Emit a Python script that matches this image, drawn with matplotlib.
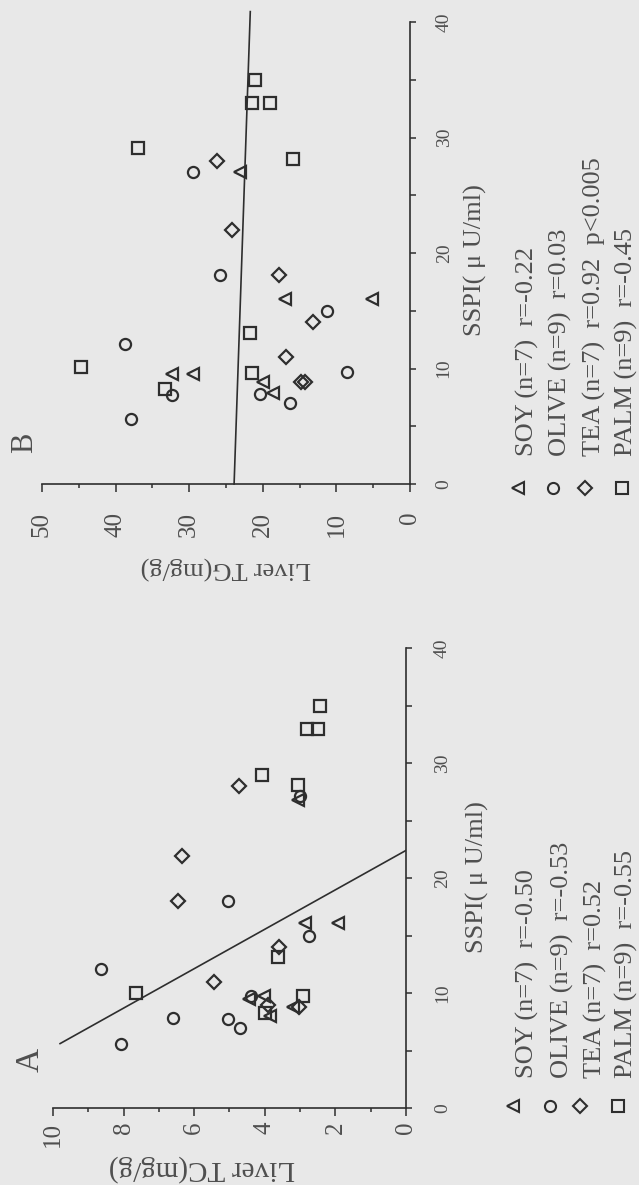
import matplotlib
matplotlib.use('Agg')
import matplotlib.pyplot as plt
from matplotlib.ticker import MultipleLocator

plt.rcParams['font.family'] = ['Liberation Serif', 'DejaVu Serif']

W, H = 639, 1185
bg = '#e8e8e8'
ink = '#2e2e2e'
txt = '#4f4f4f'

# --- Panel A: Liver TC (mg/g) vs SSPI ---
a_soy_tc = [3.07, 2.87, 1.93, 4.45, 4.03, 3.20, 3.84]
a_soy_sspi = [26.8, 16.1, 16.1, 9.5, 9.7, 8.8, 8.0]
a_olive_tc = [3.00, 5.03, 2.76, 8.64, 4.40, 6.59, 5.03, 4.69, 8.07]
a_olive_sspi = [27.1, 18.0, 15.0, 12.1, 9.7, 7.8, 7.7, 7.0, 5.6]
a_tea_tc = [4.74, 6.34, 6.45, 3.61, 5.43, 3.92, 3.04]
a_tea_sspi = [28.0, 21.9, 18.0, 14.0, 11.0, 9.0, 8.8]
a_palm_tc = [2.44, 2.81, 2.50, 4.09, 3.07, 3.64, 7.64, 2.93, 4.00]
a_palm_sspi = [35.0, 33.0, 33.0, 29.0, 28.1, 13.1, 10.0, 9.7, 8.3]
a_line_tc = [9.8, 0.0]
a_line_sspi = [5.6, 22.4]
a_legend = ['SOY (n=7)  r=-0.50', 'OLIVE (n=9)  r=-0.53',
            'TEA (n=7)  r=0.52', 'PALM (n=9)  r=-0.55']

# --- Panel B: Liver TG (mg/g) vs SSPI ---
b_soy_tg = [23.1, 17.0, 5.2, 32.3, 29.5, 20.0, 18.6]
b_soy_sspi = [27.0, 16.0, 16.0, 9.5, 9.5, 8.8, 7.9]
b_olive_tg = [29.5, 25.8, 11.3, 38.7, 8.6, 32.3, 20.4, 16.3, 37.9]
b_olive_sspi = [27.0, 18.1, 15.0, 12.1, 9.7, 7.7, 7.8, 7.0, 5.6]
b_tea_tg = [26.2, 24.2, 17.8, 13.2, 16.8, 14.3, 14.8]
b_tea_sspi = [28.0, 22.0, 18.1, 14.0, 11.0, 8.8, 8.8]
b_palm_tg = [21.1, 21.5, 19.0, 37.0, 15.9, 21.7, 44.7, 21.5, 33.3]
b_palm_sspi = [35.0, 33.0, 33.0, 29.1, 28.1, 13.1, 10.1, 9.6, 8.2]
b_line_tg = [23.9, 21.7]
b_line_sspi = [0.0, 40.9]
b_legend = ['SOY (n=7)  r=-0.22', 'OLIVE (n=9)  r=0.03',
            'TEA (n=7)  r=0.92  p<0.005', 'PALM (n=9)  r=-0.45']

sspi_ticks = [0, 10, 20, 30, 40]
markers = ['<', 'o', 'D', 's']
msizes = [9, 8, 6.8, 8]


def fx(x):
    return x / W


def fy(y):
    return 1 - y / H


fig = plt.figure(figsize=(W / 100, H / 100), dpi=100, facecolor=bg)

# axes boxes placed from pixel positions
axA = fig.add_axes([fx(53), fy(1108), (406 - 53) / W, (1108 - 648) / H])
axB = fig.add_axes([fx(42), fy(484), (410 - 42) / W, (484 - 22) / H])


def setup(ax, xmax, xmajor, xpad, ypad):
    ax.set_facecolor(bg)
    ax.set_xlim(xmax, 0)
    ax.set_ylim(0, 40)
    ax.spines['top'].set_visible(False)
    ax.spines['left'].set_visible(False)
    for s in ('bottom', 'right'):
        ax.spines[s].set_color(ink)
        ax.spines[s].set_linewidth(1.2)
    ax.yaxis.tick_right()
    ax.xaxis.set_major_locator(MultipleLocator(xmajor))
    ax.xaxis.set_minor_locator(MultipleLocator(xmajor / 2))
    ax.set_yticks(sspi_ticks, [str(t) for t in sspi_ticks],
                  rotation=90, va='center')
    ax.yaxis.set_minor_locator(MultipleLocator(5))
    ax.tick_params(which='both', direction='out', color=ink, width=1.1,
                   labelcolor=txt)
    ax.tick_params(axis='x', which='major', length=6, labelsize=18,
                   labelrotation=90, pad=xpad)
    ax.tick_params(axis='x', which='minor', length=3)
    ax.tick_params(axis='y', which='major', length=4.5, labelsize=14, pad=ypad)
    ax.tick_params(axis='y', which='minor', length=4)


setup(axA, 10, 2, 4, 15.5)
setup(axB, 50, 10, 14, 14)

groupsA = [(a_soy_tc, a_soy_sspi), (a_olive_tc, a_olive_sspi),
           (a_tea_tc, a_tea_sspi), (a_palm_tc, a_palm_sspi)]
groupsB = [(b_soy_tg, b_soy_sspi), (b_olive_tg, b_olive_sspi),
           (b_tea_tg, b_tea_sspi), (b_palm_tg, b_palm_sspi)]

for ax, groups in ((axA, groupsA), (axB, groupsB)):
    for (xv, yv), m, ms in zip(groups, markers, msizes):
        ax.plot(xv, yv, linestyle='none', marker=m, ms=ms, mfc='none',
                mec=ink, mew=1.6, clip_on=False)

axA.plot(a_line_tc, a_line_sspi, color=ink, lw=1.2)
axB.plot(b_line_tg, b_line_sspi, color=ink, lw=1.2, clip_on=False)

# axis titles, panel letters
fig.text(fx(202), fy(1168), 'Liver TC(mg/g)', rotation=180, fontsize=21,
         color=txt, ha='center', va='center')
fig.text(fx(226), fy(568), 'Liver TG(mg/g)', rotation=180, fontsize=19,
         color=txt, ha='center', va='center')
fig.text(fx(477), fy(877), 'SSPI( μ U/ml)', rotation=90, fontsize=19,
         color=txt, ha='center', va='center')
fig.text(fx(475), fy(260), 'SSPI( μ U/ml)', rotation=90, fontsize=19,
         color=txt, ha='center', va='center')
fig.text(fx(30), fy(1060), 'A', rotation=90, fontsize=24, color=txt,
         ha='center', va='center')
fig.text(fx(25), fy(443), 'B', rotation=90, fontsize=22, color=txt,
         ha='center', va='center')

# legends: rotated, one column per series
legA_mark = [513, 550, 580, 618]
legA_text = [527, 562, 595, 626]
legB_mark = [518, 553, 585, 622]
legB_text = [527, 560, 594, 626]
for labels, xm, xt, y_mark, y_text in (
        (a_legend, legA_mark, legA_text, 1106, 1078),
        (b_legend, legB_mark, legB_text, 488, 456)):
    for lab, x1, x2, m, ms in zip(labels, xm, xt, markers, msizes):
        axA.plot([fx(x1)], [fy(y_mark)], transform=fig.transFigure,
                 marker=m, ms=ms, mfc='none', mec=ink, mew=1.5,
                 clip_on=False)
        fig.text(fx(x2), fy(y_text), lab, rotation=90, fontsize=19,
                 color=txt, ha='center', va='bottom')

fig.savefig('out.png', dpi=100, facecolor=bg)
